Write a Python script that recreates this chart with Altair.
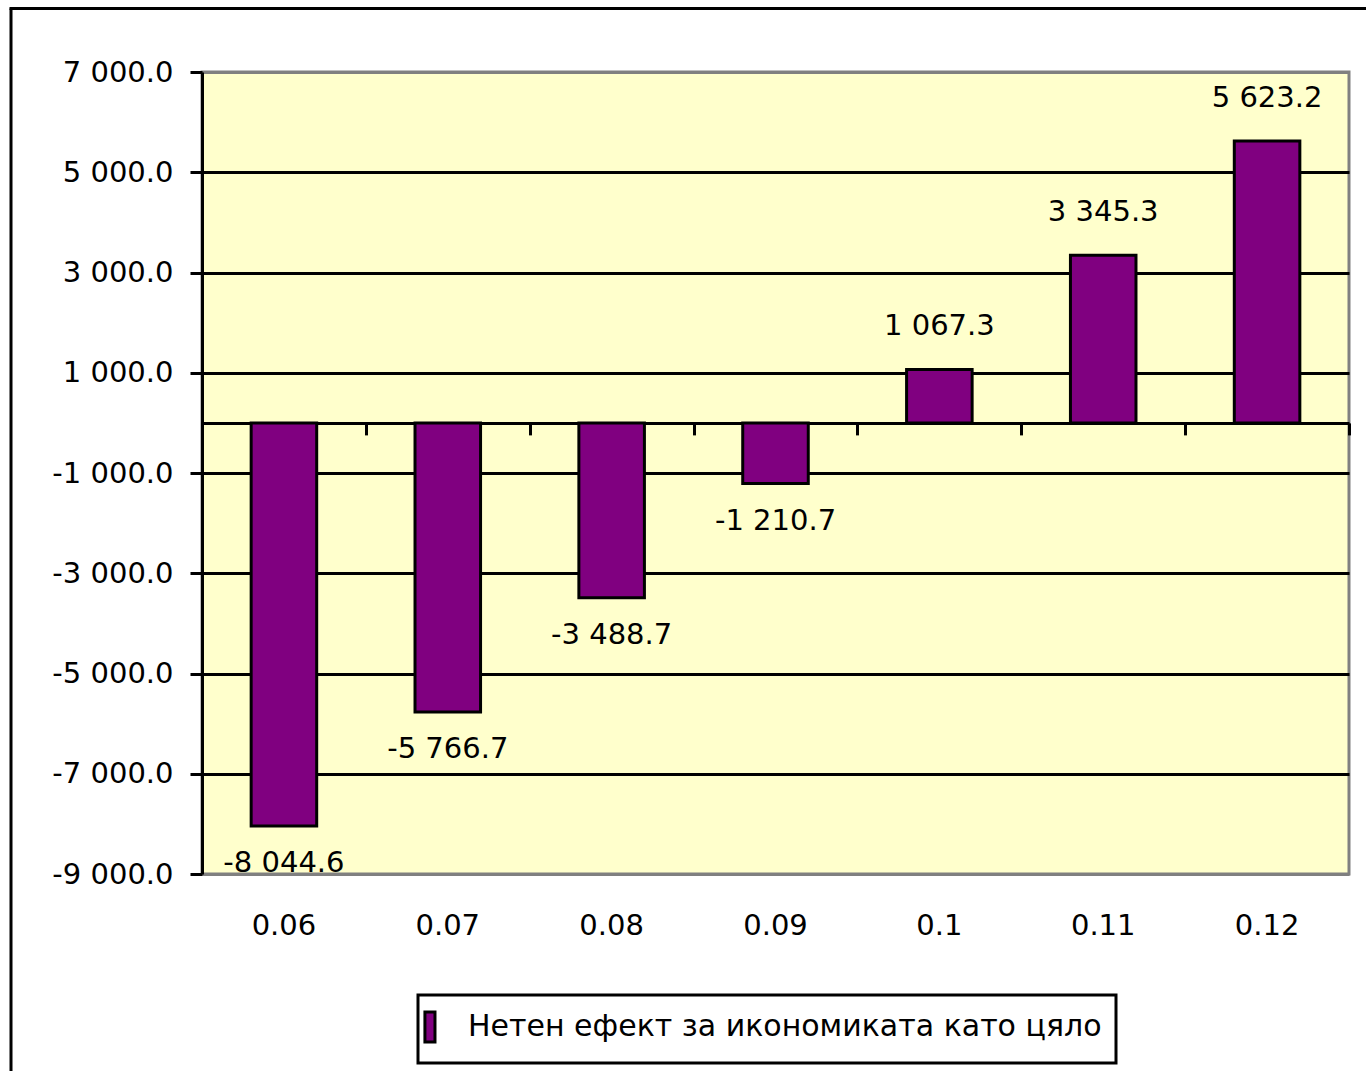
import altair as alt
import pandas as pd

categories = ["0.06", "0.07", "0.08", "0.09", "0.1", "0.11", "0.12"]
values = [-8044.6, -5766.7, -3488.7, -1210.7, 1067.3, 3345.3, 5623.2]
series_name = "Нетен ефект за икономиката като цяло"
y_ticks = [7000, 5000, 3000, 1000, -1000, -3000, -5000, -7000, -9000]

df = pd.DataFrame({"cat": categories, "value": values, "series": [series_name] * len(values)})

FONT = "DejaVu Sans"
FS = 29
W, H = 1147, 802
PAD = {"left": 202, "top": 72, "right": 17, "bottom": 197}
STEP = W / len(categories)

fmt = "(datum.value < 0 ? '-' : '') + replace(format(abs(datum.value), ',.1f'), ',', ' ')"

xscale = alt.Scale(paddingInner=0.6, paddingOuter=0.3)
yscale = alt.Scale(domain=[-9000, 7000], nice=False, zero=False)

yaxis = alt.Axis(values=y_ticks, labelExpr=fmt, labelFont=FONT,
                 labelFontSize=FS, labelColor="black", labelPadding=17,
                 domainColor="black", domainWidth=3, tickColor="black",
                 tickWidth=3, tickSize=12, grid=True, gridWidth=3,
                 gridColor=alt.condition("datum.value == 7000 || datum.value == -9000",
                                         alt.value("#808080"), alt.value("black")))

base = alt.Chart(df)

bars = base.mark_bar(stroke="black", strokeWidth=3, opacity=1).encode(
    x=alt.X("cat:N", sort=categories, scale=xscale, title=None,
            axis=alt.Axis(labelFont=FONT, labelFontSize=FS, labelColor="black",
                          labelAngle=0, labelPadding=37, ticks=False, domain=False,
                          grid=False)),
    y=alt.Y("value:Q", scale=yscale, title=None, axis=yaxis),
    color=alt.Color("series:N", scale=alt.Scale(domain=[series_name], range=["#800080"]),
                    legend=alt.Legend(title=None, orient="none", legendX=216, legendY=923,
                                      strokeColor="black", padding=14,
                                      symbolType="M-1.52,-0.91H-0.91V0.91H-1.52Z",
                                      symbolSize=1089, symbolStrokeColor="black",
                                      symbolStrokeWidth=3, symbolOpacity=1,
                                      labelFont=FONT, labelFontSize=30, labelColor="black",
                                      labelLimit=2000, labelOffset=0)),
)

zero_axis = base.mark_point(opacity=0).encode(
    x=alt.X("cat:N", sort=categories, scale=xscale, title=None,
            axis=alt.Axis(labels=False, offset=-451.1, domainColor="black", domainWidth=3,
                          tickColor="black", tickWidth=3, tickSize=12,
                          tickOffset=STEP / 2, grid=False, orient="bottom")),
    y=alt.Y("value:Q", scale=yscale, title=None, axis=yaxis),
)

pos_text = base.transform_filter("datum.value >= 0").transform_calculate(
    lbl=fmt
).mark_text(dy=-43, font=FONT, fontSize=FS, color="black", baseline="middle").encode(
    x=alt.X("cat:N", sort=categories, scale=xscale, axis=None),
    y=alt.Y("value:Q", scale=yscale, title=None, axis=yaxis),
    text="lbl:N",
)

neg_text = base.transform_filter("datum.value < 0").transform_calculate(
    lbl=fmt
).mark_text(dy=37, font=FONT, fontSize=FS, color="black", baseline="middle").encode(
    x=alt.X("cat:N", sort=categories, scale=xscale, axis=None),
    y=alt.Y("value:Q", scale=yscale, title=None, axis=yaxis),
    text="lbl:N",
)

frame_df = pd.DataFrame({"k": [0]})
frame_left = alt.Chart(frame_df).mark_rule(color="black", strokeWidth=3).encode(
    x=alt.value(-191), y=alt.value(-63.5), y2=alt.value(1100)
)
frame_top = alt.Chart(frame_df).mark_rule(color="black", strokeWidth=3).encode(
    x=alt.value(-192.5), x2=alt.value(1300), y=alt.value(-63.5)
)

chart = alt.layer(bars, zero_axis, pos_text, neg_text, frame_left, frame_top).resolve_axis(
    x="independent"
).properties(
    width=W, height=H, padding=PAD, autosize=alt.AutoSizeParams(type="none"),
    background="white",
).configure_view(
    fill="#FFFFCC", stroke="#808080", strokeWidth=3
).configure_legend(
    strokeWidth=3
)

chart.save("out.html", embed_options={"renderer": "svg", "actions": False})
